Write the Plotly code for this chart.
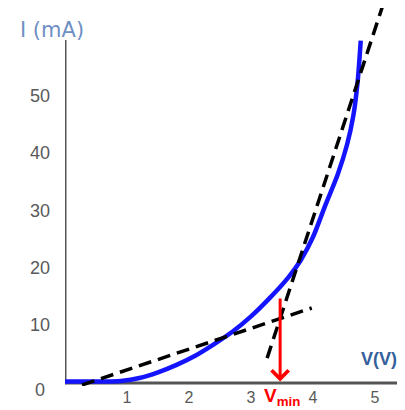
import plotly.graph_objects as go

# Diode I-V curve
voltage = [0, 0.6, 0.9, 1.2, 1.5, 1.8, 2.1, 2.4, 2.7, 3.0, 3.3, 3.6, 3.8, 4.0, 4.2, 4.4, 4.55, 4.65, 4.72, 4.77]
current = [0, 0, 0.1, 0.6, 1.6, 2.9, 4.5, 6.5, 8.7, 11.4, 14.6, 18.2, 21.2, 25.3, 30.9, 36.3, 41.5, 46.5, 52.5, 59.7]

# Tangent lines (end points)
tan_low_v = [0.274, 3.98]
tan_low_i = [-0.61, 12.87]
tan_high_v = [3.26, 5.13]
tan_high_i = [4.1, 66.0]

v_min = 3.47
arrow_top = 14.8

x_ticks = [1, 2, 3, 4, 5]
y_ticks = [10, 20, 30, 40, 50]
y_axis_top = 59.8

fig = go.Figure()
fig.add_trace(go.Scatter(x=voltage, y=current, mode="lines",
                         line=dict(color="#1414ff", width=4.5, shape="spline", smoothing=0.8),
                         hoverinfo="skip"))
fig.add_trace(go.Scatter(x=tan_low_v, y=tan_low_i, mode="lines",
                         line=dict(color="black", width=3.5, dash="13px,7px"), hoverinfo="skip"))
fig.add_trace(go.Scatter(x=tan_high_v, y=tan_high_i, mode="lines",
                         line=dict(color="black", width=3.5, dash="13px,7px"), hoverinfo="skip"))

axis_col = "#555555"
fig.add_shape(type="line", x0=0, x1=5.484, y0=-0.25, y1=-0.25, xref="x", yref="y",
              line=dict(color=axis_col, width=3), layer="below")
fig.add_shape(type="line", x0=0, x1=0, y0=-0.5, y1=y_axis_top, xref="x", yref="y",
              line=dict(color=axis_col, width=3), layer="below")

fig.add_annotation(x=v_min, y=0, ax=v_min, ay=arrow_top, xref="x", yref="y",
                   axref="x", ayref="y", text="", showarrow=True,
                   arrowhead=4, arrowsize=1.1, arrowwidth=3, arrowcolor="#ff0000", standoff=0)

fig.add_annotation(x=-0.0382, y=0.943, xref="paper", yref="paper", text="I (mA)",
                   xanchor="center", yanchor="middle",
                   showarrow=False, font=dict(family="DejaVu Sans", size=21, color="#6f8fc4"))
fig.add_annotation(x=5.07, y=4.0, xref="x", yref="y", text="<b>V(V)</b>",
                   xanchor="center", yanchor="middle",
                   showarrow=False, font=dict(family="Liberation Sans", size=18, color="#35609c"))
fig.add_annotation(x=3.5, y=-0.028, xref="x", yref="paper", text="<b>V<sub>min</sub></b>",
                   xanchor="center", yanchor="middle",
                   showarrow=False, font=dict(family="Liberation Sans", size=19, color="#ff0000"))
fig.add_annotation(x=-0.075, y=-0.0093, xref="paper", yref="paper", text="0",
                   xanchor="center", yanchor="middle",
                   showarrow=False, font=dict(family="Liberation Sans", size=18, color="#595959"))

fig.update_layout(
    width=397, height=402,
    margin=dict(l=57, r=0, t=0, b=24),
    paper_bgcolor="white", plot_bgcolor="white",
    showlegend=False,
    xaxis=dict(range=[0, 5.484], tickvals=x_ticks, ticktext=[str(v) for v in x_ticks],
               showgrid=False, zeroline=False, showline=False, ticks="",
               tickfont=dict(family="Liberation Sans", size=16, color="#595959")),
    yaxis=dict(range=[-0.79, 65.41], tickvals=y_ticks, ticktext=[str(v) for v in y_ticks],
               showgrid=False, zeroline=False, showline=False, ticks="",
               ticklabelstandoff=14,
               tickfont=dict(family="Liberation Sans", size=18, color="#595959")),
)

fig.write_html("out.html")
